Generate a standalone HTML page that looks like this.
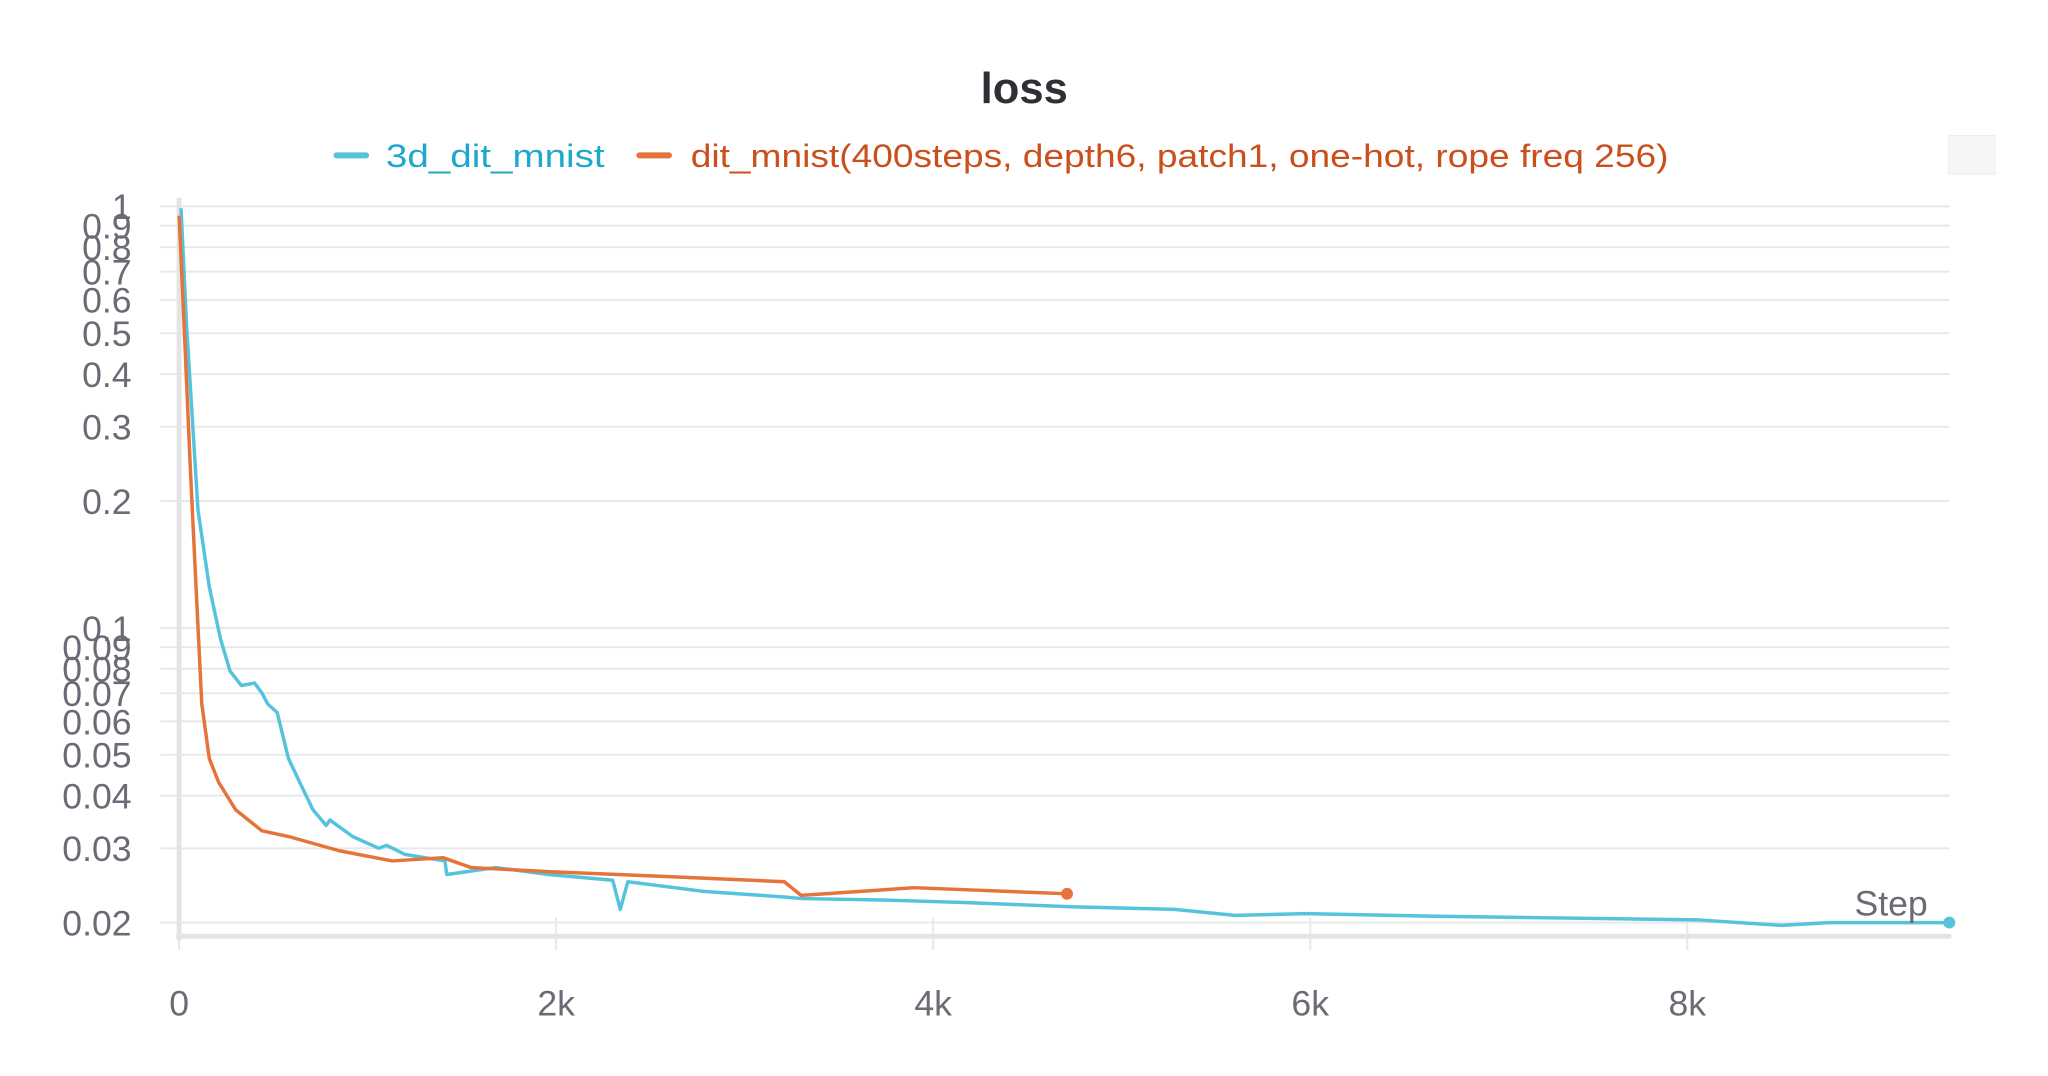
<!DOCTYPE html>
<html><head><meta charset="utf-8"><style>
html,body{margin:0;padding:0;background:#fff}
svg{display:block}
text{font-family:"Liberation Sans",sans-serif}
</style></head><body>
<svg id="chart" width="2048" height="1076" viewBox="0 0 2048 1076">
<g transform="scale(0.9896)">
<text x="1035" y="104" text-anchor="middle" font-size="44" font-weight="bold" fill="#2f3035">loss</text>
<g>
<g>
<line x1="340" y1="157" x2="370" y2="157" stroke="#55c3db" stroke-width="6" stroke-linecap="round"/>
<text x="390" y="169" font-size="33" fill="#1ea8cc" textLength="221" lengthAdjust="spacingAndGlyphs">3d_dit_mnist</text>
</g>
<g>
<line x1="646" y1="157" x2="676" y2="157" stroke="#e5733a" stroke-width="6" stroke-linecap="round"/>
<text x="698" y="169" font-size="33" fill="#c9501c" textLength="988" lengthAdjust="spacingAndGlyphs">dit_mnist(400steps, depth6, patch1, one-hot, rope freq 256)</text>
</g>
</g>
<rect x="1969" y="137" width="47" height="39" fill="#f6f6f7" stroke="#ececee"/>
<g id="grid"></g>
<g id="yticks"></g>
<g id="xticks"></g>
<line x1="181" y1="200" x2="181" y2="950" stroke="#e4e4e7" stroke-width="5"/>
<line x1="178" y1="946" x2="1972" y2="946" stroke="#e4e4e7" stroke-width="5"/>
<g id="series"></g>
<text x="1948" y="925" text-anchor="end" font-size="36" fill="#6b6b76">Step</text>
</g>
</svg>
<script>
const yTicks=[1,0.9,0.8,0.7,0.6,0.5,0.4,0.3,0.2,0.1,0.09,0.08,0.07,0.06,0.05,0.04,0.03,0.02];
const yTickLabels=["1","0.9","0.8","0.7","0.6","0.5","0.4","0.3","0.2","0.1","0.09","0.08","0.07","0.06","0.05","0.04","0.03","0.02"];
const xTicks=[0,2,4,6,8];
const xTickLabels=["0","2k","4k","6k","8k"];
const cyanSteps=[0.01,0.04,0.07,0.1,0.16,0.22,0.27,0.33,0.40,0.44,0.47,0.52,0.58,0.64,0.71,0.78,0.80,0.92,1.06,1.10,1.20,1.41,1.42,1.68,1.96,2.30,2.34,2.38,2.79,3.21,3.30,3.76,4.18,4.73,5.28,5.60,5.98,6.67,7.36,8.05,8.5,8.75,9.39];
const cyanValues=[0.99,0.52,0.315,0.19,0.125,0.094,0.079,0.073,0.074,0.070,0.066,0.063,0.049,0.043,0.037,0.034,0.035,0.032,0.030,0.0305,0.029,0.028,0.026,0.027,0.026,0.0252,0.0215,0.025,0.0237,0.023,0.0228,0.0226,0.0223,0.0218,0.0215,0.0208,0.021,0.0207,0.0205,0.0203,0.0197,0.0200,0.0200];
const orangeSteps=[0.0,0.03,0.06,0.09,0.12,0.16,0.21,0.3,0.44,0.58,0.85,1.13,1.40,1.55,1.97,2.52,3.21,3.30,3.9,4.71];
const orangeValues=[0.95,0.48,0.237,0.125,0.066,0.049,0.043,0.037,0.033,0.032,0.0296,0.028,0.0285,0.027,0.0264,0.0258,0.025,0.0232,0.0242,0.0234];
const NS="http://www.w3.org/2000/svg";
const X0=181,PXK=190.5,Y1=208.5,PXD=426;
function xs(k){return X0+k*PXK;}
function ys(v){return Y1-Math.log10(v)*PXD;}
const grid=document.getElementById('grid'),yt=document.getElementById('yticks'),xt=document.getElementById('xticks'),ser=document.getElementById('series');
yTicks.forEach((v,i)=>{
 const l=document.createElementNS(NS,'line');
 l.setAttribute('x1',162);l.setAttribute('x2',1970);l.setAttribute('y1',ys(v));l.setAttribute('y2',ys(v));
 l.setAttribute('stroke','#e8e8ea');l.setAttribute('stroke-width','2');
 
 
 grid.appendChild(l);
 const t=document.createElementNS(NS,'text');
 t.setAttribute('x',133);t.setAttribute('y',ys(v)+13);t.setAttribute('text-anchor','end');
 t.setAttribute('font-size','36');t.setAttribute('fill','#6b6b76');t.textContent=yTickLabels[i];
 
 
 yt.appendChild(t);
});
xTicks.forEach((k,i)=>{
 const l=document.createElementNS(NS,'line');
 l.setAttribute('x1',xs(k));l.setAttribute('x2',xs(k));l.setAttribute('y1',927);l.setAttribute('y2',960);
 l.setAttribute('stroke','#e8e8ea');l.setAttribute('stroke-width','2');
 
 
 xt.appendChild(l);
 const t=document.createElementNS(NS,'text');
 t.setAttribute('x',xs(k));t.setAttribute('y',1026);t.setAttribute('text-anchor','middle');
 t.setAttribute('font-size','36');t.setAttribute('fill','#6b6b76');t.textContent=xTickLabels[i];
 
 
 xt.appendChild(t);
});
function draw(steps,vals,color,name){
 const p=document.createElementNS(NS,'path');
 p.setAttribute('d',steps.map((k,i)=>(i?'L':'M')+xs(k).toFixed(1)+' '+ys(vals[i]).toFixed(1)).join(' '));
 p.setAttribute('fill','none');p.setAttribute('stroke',color);p.setAttribute('stroke-width','3.5');p.setAttribute('stroke-linejoin','round');
 
 
 ser.appendChild(p);
 const n=steps.length-1;
 const c=document.createElementNS(NS,'circle');
 c.setAttribute('cx',xs(steps[n]));c.setAttribute('cy',ys(vals[n]));c.setAttribute('r',6);c.setAttribute('fill',color);
 
 
 ser.appendChild(c);
}
draw(cyanSteps,cyanValues,'#55c3db','3d-dit-mnist');
draw(orangeSteps,orangeValues,'#e5733a','dit-mnist');
</script>
</body></html>
